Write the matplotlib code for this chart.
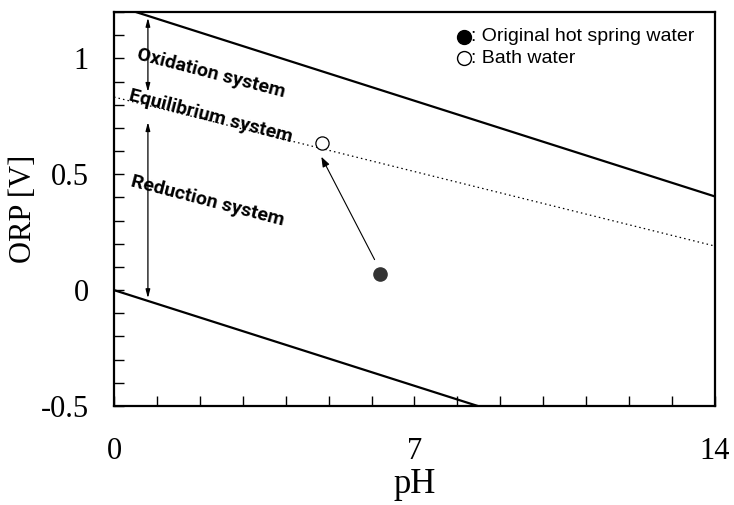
import matplotlib
matplotlib.use("Agg")
import matplotlib.pyplot as plt
import numpy as np

# Data
ph_range = [0, 14]
oxid_intercept, oxid_slope = 1.23, -0.059      # upper boundary
red_intercept, red_slope = 0.0, -0.059          # lower boundary
equil_line = [0.833, 0.19]                      # dotted equilibrium line at pH 0 and 14
orig_ph, orig_orp = [6.2], [0.071]              # original hot spring water
bath_ph, bath_orp = [4.85], [0.636]             # bath water
x_ticklabels = [0, 7, 14]
y_ticklabels = [-0.5, 0, 0.5, 1]
region_labels = ["Oxidation system", "Equilibrium system", "Reduction system"]
legend_labels = ["Original hot spring water", "Bath water"]

fig = plt.figure(figsize=(7.34, 5.05), dpi=100)
ax = fig.add_axes([114/734, 1-406/505, (715-114)/734, (406-12)/505])

xs = np.array(ph_range, dtype=float)
ax.plot(xs, oxid_intercept + oxid_slope*xs, color='black', lw=1.6, solid_capstyle='butt')
ax.plot(xs, red_intercept + red_slope*xs, color='black', lw=1.6, solid_capstyle='butt')
ax.plot(ph_range, equil_line, color='black', lw=0.9, ls=(0, (1.2, 2.5)))

ax.plot(orig_ph, orig_orp, 'o', color='#333333', ms=9.5, zorder=5)
ax.plot(bath_ph, bath_orp, 'o', mfc='white', mec='black', mew=0.9, ms=9.5, zorder=5)

# arrow from original to bath
ax.annotate('', xy=(bath_ph[0]-0.05, bath_orp[0]-0.05), xytext=(orig_ph[0]-0.1, orig_orp[0]+0.05),
            arrowprops=dict(arrowstyle='-|>,head_length=0.6,head_width=0.22', color='black', lw=0.8))

# region arrows
ax_x = 0.79
ax.annotate('', xy=(ax_x, 1.175), xytext=(ax_x, 0.855),
            arrowprops=dict(arrowstyle='<|-|>,head_length=0.5,head_width=0.13', color='black', lw=0.9, shrinkA=0, shrinkB=0))
ax.annotate('', xy=(ax_x, 0.725), xytext=(ax_x, -0.035),
            arrowprops=dict(arrowstyle='<|-|>,head_length=0.5,head_width=0.13', color='black', lw=0.9, shrinkA=0, shrinkB=0))

tkw = dict(fontsize=14, fontweight='bold', family='Roboto', rotation=-14.5,
           ha='center', va='center', rotation_mode='anchor')
ax.text(2.26, 0.935, region_labels[0], **tkw)
ax.text(2.26, 0.748, region_labels[1], **tkw)
ax.text(2.18, 0.385, region_labels[2], **tkw)

# legend as text
ax.plot([8.15], [1.094], 'o', color='black', ms=10, clip_on=False)
ax.plot([8.15], [1.0], 'o', mfc='white', mec='black', mew=1, ms=10, clip_on=False)
lkw = dict(fontsize=14, family='Liberation Sans', va='center', ha='left')
ax.text(8.32, 1.094, ': ' + legend_labels[0], **lkw)
ax.text(8.32, 1.0, ': ' + legend_labels[1], **lkw)

ax.set_xlim(0, 14)
ax.set_ylim(-0.5, 1.2)
ax.set_xticks(np.arange(0, 15, 1))
ax.set_xticklabels([str(v) if v in x_ticklabels else '' for v in range(15)])
yt = np.round(np.arange(-0.5, 1.21, 0.1), 2)
ax.set_yticks(yt)
ylabs = []
for v in yt:
    match = [t for t in y_ticklabels if abs(v - t) < 1e-9]
    ylabs.append('%g' % match[0] if match else '')
ax.set_yticklabels(ylabs)
ax.tick_params(direction='in', length=7, width=1, labelsize=22, color='black')
ax.tick_params(axis='x', pad=22)
ax.tick_params(axis='y', pad=18)
for lab in ax.get_xticklabels() + ax.get_yticklabels():
    lab.set_family('Liberation Serif')
for s in ax.spines.values():
    s.set_linewidth(1.6)

ax.set_xlabel('pH', family='Liberation Serif', fontsize=25, labelpad=2)
ax.set_ylabel('ORP [V]', family='Liberation Serif', fontsize=22, labelpad=2)

fig.savefig('out.png', dpi=100)
